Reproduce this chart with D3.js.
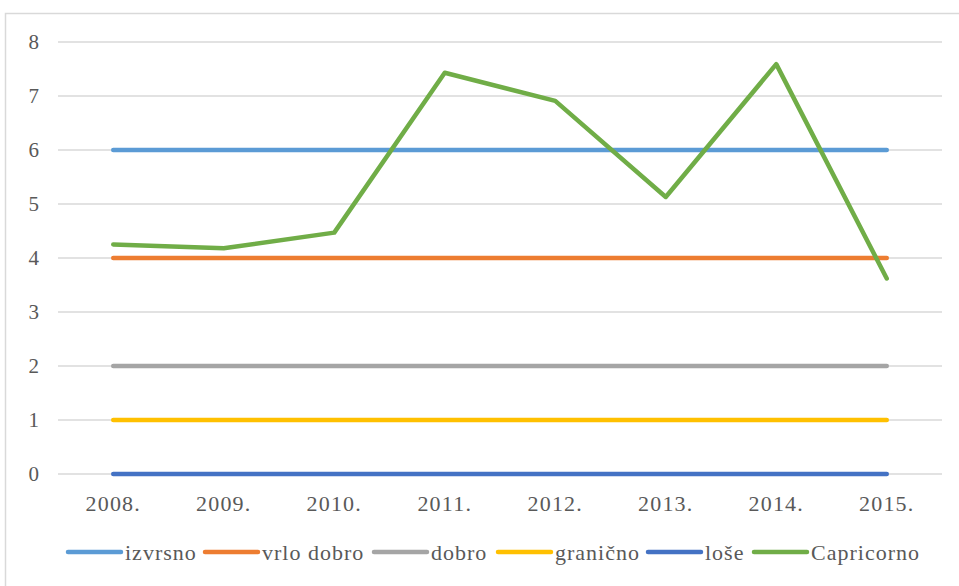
<!DOCTYPE html>
<html>
<head>
<meta charset="utf-8">
<script src="https://cdn.jsdelivr.net/npm/d3@7"></script>
<style>
  body { margin: 0; background: #fff; }
</style>
</head>
<body>
<div class="d3"></div>
<script>
var years = ["2008.", "2009.", "2010.", "2011.", "2012.", "2013.", "2014.", "2015."];
var izvrsno = [6, 6, 6, 6, 6, 6, 6, 6];
var vrloDobro = [4, 4, 4, 4, 4, 4, 4, 4];
var dobro = [2, 2, 2, 2, 2, 2, 2, 2];
var granicno = [1, 1, 1, 1, 1, 1, 1, 1];
var lose = [0, 0, 0, 0, 0, 0, 0, 0];
var capricorno = [4.25, 4.18, 4.47, 7.43, 6.91, 5.13, 7.59, 3.62];
var yTicks = [0, 1, 2, 3, 4, 5, 6, 7, 8];

var series = [
  {name: "izvrsno", values: izvrsno, color: "#5b9bd5"},
  {name: "vrlo dobro", values: vrloDobro, color: "#ed7d31"},
  {name: "dobro", values: dobro, color: "#a5a5a5"},
  {name: "granično", values: granicno, color: "#ffc000"},
  {name: "loše", values: lose, color: "#4472c4"},
  {name: "Capricorno", values: capricorno, color: "#70ad47"}
];

var font = "'Liberation Serif', 'Times New Roman', 'DejaVu Serif', serif";

var width = 959, height = 586;
var margin = {top: 42, right: 17, bottom: 112, left: 58};
var w = width - margin.left - margin.right,
    h = height - margin.top - margin.bottom;

var svg = d3.select(".d3").append("svg")
    .attr("width", width)
    .attr("height", height);

// chart frame
svg.append("rect")
    .attr("x", 5.5).attr("y", 13.5)
    .attr("width", 1000).attr("height", 1000)
    .attr("fill", "none")
    .attr("stroke", "#d9d9d9")
    .attr("stroke-width", 1.5);

var g = svg.append("g")
    .attr("transform", "translate(" + margin.left + "," + margin.top + ")");

var x = d3.scaleBand()
    .domain(years)
    .range([0, w]);

var y = d3.scaleLinear()
    .domain([0, 8])
    .range([h, 0]);

// gridlines
g.selectAll(".grid")
    .data(yTicks)
  .enter().append("line")
    .attr("class", "grid")
    .attr("x1", 0).attr("x2", w)
    .attr("y1", function(d) { return y(d); })
    .attr("y2", function(d) { return y(d); })
    .attr("stroke", "#d9d9d9")
    .attr("stroke-width", 1.3);

var yAxis = d3.axisLeft(y).tickValues(yTicks).tickSize(0).tickPadding(19);
g.append("g").call(yAxis)
    .attr("font-family", null)
    .call(function(s) { s.select(".domain").remove(); })
    .selectAll("text")
    .style("font-family", font)
    .style("font-size", "21px")
    .attr("fill", "#595959");

var xAxis = d3.axisBottom(x).tickSize(0).tickPadding(21);
g.append("g")
    .attr("transform", "translate(0," + h + ")")
    .call(xAxis)
    .attr("font-family", null)
    .call(function(s) { s.select(".domain").remove(); })
    .selectAll("text")
    .style("font-family", font)
    .style("font-size", "22px")
    .style("letter-spacing", "1.2px")
    .attr("fill", "#595959");

var line = d3.line()
    .x(function(d, i) { return x(years[i]) + x.bandwidth() / 2; })
    .y(function(d) { return y(d); });

g.selectAll(".series")
    .data(series)
  .enter().append("path")
    .attr("class", "series")
    .attr("d", function(d) { return line(d.values); })
    .attr("fill", "none")
    .attr("stroke", function(d) { return d.color; })
    .attr("stroke-width", 4.5)
    .attr("stroke-linecap", "round")
    .attr("stroke-linejoin", "round");

// legend
var legendX = [68, 205, 374, 498, 648, 754];
var legend = svg.selectAll(".legend")
    .data(series)
  .enter().append("g")
    .attr("class", "legend")
    .attr("transform", function(d, i) { return "translate(" + legendX[i] + ",552)"; });

legend.append("line")
    .attr("x1", 0).attr("x2", 53)
    .attr("y1", 0).attr("y2", 0)
    .attr("stroke", function(d) { return d.color; })
    .attr("stroke-width", 4.5)
    .attr("stroke-linecap", "round");

legend.append("text")
    .attr("x", 57)
    .attr("y", 8)
    .style("font-family", font)
    .style("font-size", "22px")
    .style("letter-spacing", "1px")
    .attr("fill", "#595959")
    .text(function(d) { return d.name; });
</script>
</body>
</html>
